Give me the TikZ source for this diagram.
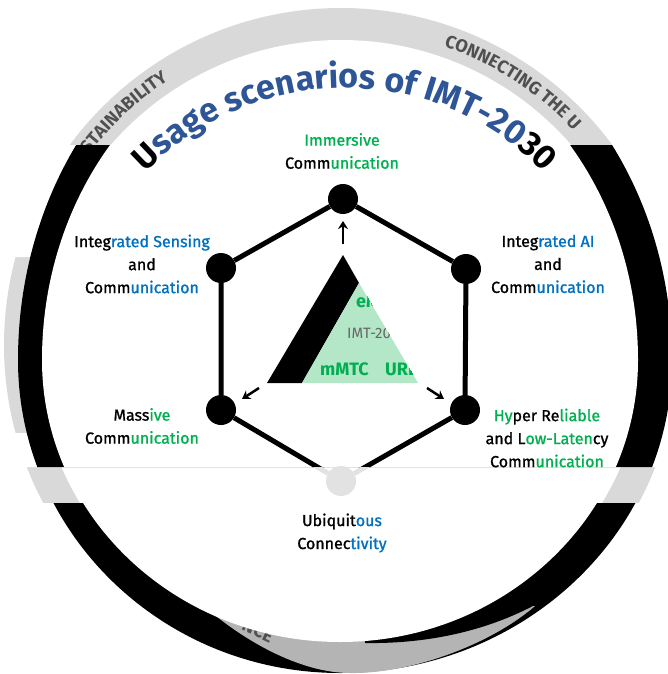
\documentclass[tikz,border=0pt]{standalone}
\usepackage{fontspec}
\setmainfont{Fira Sans}
\newfontfamily\lblfont{Fira Sans}[FakeBold=1.2]
\usetikzlibrary{arrows.meta,decorations.text}

\definecolor{ringgrey}{HTML}{D9D9D9}
\definecolor{crescgrey}{HTML}{B4B4B4}
\definecolor{dotgrey}{HTML}{E2E2E2}
\definecolor{ringtext}{HTML}{505050}
\definecolor{titleblue}{HTML}{2E5596}
\definecolor{igreen}{HTML}{00B050}
\definecolor{iblue}{HTML}{0070C0}
\definecolor{trigreen}{HTML}{B4E6C8}
\definecolor{imtgrey}{HTML}{666666}

\newcommand{\gtx}[1]{\textcolor{igreen}{#1}}
\newcommand{\btx}[1]{\textcolor{iblue}{#1}}
\newcommand{\ringfont}{\fontsize{18}{18}\selectfont\bfseries}
\newcommand{\imttitlefont}{\fontsize{34}{34}\selectfont\bfseries}

\begin{document}
\begin{tikzpicture}[x=1pt, y=-1pt, >={Stealth[length=8pt, width=10pt]},
  dot/.style = {circle, fill=black, minimum size=30pt, inner sep=0pt},
  lbl/.style = {align=center, font=\lblfont\fontsize{16}{23}\selectfont},
  tri/.style = {anchor=west, inner sep=0pt},
  edge/.style = {line width=5pt},
  arr/.style = {->, line width=2.5pt}]

	\useasboundingbox (0,0) rectangle (668,674);
	\coordinate (ringc) at (341,345);
	\coordinate (titlec) at (345,365);

	% rings
	\fill[ringgrey] (ringc) circle[radius=337pt];
	\fill[white] (ringc) circle[radius=305pt];
	\path[decorate, decoration={text along path, text align=left,
		text={|\ringfont\color{ringtext}|STAINABILITY}}]
		(ringc) ++(143:316pt) arc[start angle=143, end angle=100, radius=316pt];
	\path[decorate, decoration={text along path, text align=left,
		text={|\ringfont\color{ringtext}|CONNECTING THE U}}]
		(ringc) ++(71:316pt) arc[start angle=71, end angle=20, radius=316pt];
	\begin{scope}
		\clip (0,145) rectangle (668,467) (0,503) rectangle (668,674);
		\fill[white] (0,145) rectangle (668,257) (0,433) rectangle (668,467)
			(500,257) rectangle (668,433) (0,503) rectangle (668,674);
		\fill[black] (18,360) arc[start angle=180, end angle=90, x radius=322pt, y radius=375pt]
			arc[start angle=90, end angle=0, x radius=332pt, y radius=375pt]
			arc[start angle=0, end angle=-90, x radius=332pt, y radius=313pt]
			arc[start angle=-90, end angle=-180, x radius=322pt, y radius=313pt] -- cycle;
		\fill[crescgrey] (195,598) .. controls (240,640) and (300,673) .. (350,673)
			.. controls (410,674) and (490,645) .. (535,606) -- (345,600) -- cycle;
		\node[font=\ringfont, text=ringtext, rotate=-25] (nce) at (258,631) {NCE};
		\fill[black] (560,530) -- (560,590) .. controls (500,630) and (430,644) .. (365,643)
			-- (365,600) -- cycle;
		\fill[white] (42,360) arc[start angle=180, end angle=0, x radius=298pt, y radius=338pt]
			arc[start angle=0, end angle=-180, x radius=298pt, y radius=282pt] -- cycle;
	\end{scope}

	% title
	\path[decorate, decoration={text along path, text align=center,
		text={|\imttitlefont\color{black}|U|+\color{titleblue}|sage scenarios of IMT-20|+\color{black}|30}}]
		(titlec) ++(160:277pt) arc[start angle=160, end angle=20, radius=277pt];

	% hexagon
	\node[dot] (imm) at (343,199) {};
	\node[dot] (isac) at (221,268) {};
	\node[dot] (aic) at (466,269) {};
	\node[dot] (mc) at (221,410) {};
	\node[dot] (hrl) at (465,410) {};
	\node[dot, fill=dotgrey] (ubc) at (341,481) {};

	\draw[edge] (mc) -- (isac) -- (imm) -- (aic) -- (hrl);
	\begin{scope}
		\clip (0,0) rectangle (668,467);
		\draw[edge] (mc) -- (ubc) -- (hrl);
	\end{scope}
	\begin{scope}
		\clip (0,467) rectangle (668,503);
		\draw[edge, dotgrey] (mc) -- (ubc) -- (hrl);
	\end{scope}

	% triangle
	\fill[black] (343,255) -- (267,383) -- (302,383) -- (359,283) -- cycle;
	\fill[trigreen] (359,283) -- (418,383) -- (302,383) -- cycle;
	\begin{scope}
		\clip (343,255) -- (267,383) -- (418,383) -- cycle;
		\node[tri, font=\fontsize{18}{18}\selectfont\bfseries, text=igreen] (embb) at (356,301) {eM};
		\node[tri, font=\fontsize{15}{15}\selectfont, text=imtgrey] (imt) at (347,333) {IMT-20};
		\node[tri, font=\fontsize{18}{18}\selectfont\bfseries, text=igreen] (mmtc) at (320,369) {mMTC};
		\node[tri, font=\fontsize{18}{18}\selectfont\bfseries, text=igreen] (urllc) at (385,369) {URL};
	\end{scope}

	\coordinate (a1) at (343,244);
	\coordinate (a2) at (259,388);
	\coordinate (a3) at (427,388);
	\coordinate (b1) at (343,221);
	\coordinate (b2) at (242,399);
	\coordinate (b3) at (444,399);
	\draw[arr] (a1) -- (b1);
	\draw[arr] (a2) -- (b2);
	\draw[arr] (a3) -- (b3);

	% labels
	\node[lbl] (imml) at (342,151) {\gtx{Immersive}\\Comm\gtx{unication}};
	\node[lbl] (isacl) at (142,264) {Integ\btx{rated Sensing}\\and\\Comm\btx{unication}};
	\node[lbl] (aicl) at (548,264) {Integ\btx{rated AI}\\and\\Comm\btx{unication}};
	\node[lbl] (mcl) at (142,426) {Mass\gtx{ive}\\Comm\gtx{unication}};
	\node[lbl] (hrll) at (547,438) {\gtx{Hy}per Re\gtx{liable}\\and L\gtx{ow-Laten}cy\\Comm\gtx{unication}};
	\node[lbl] (ubcl) at (342,533) {Ubiquit\btx{ous}\\Connec\btx{tivity}};
\end{tikzpicture}
\end{document}
